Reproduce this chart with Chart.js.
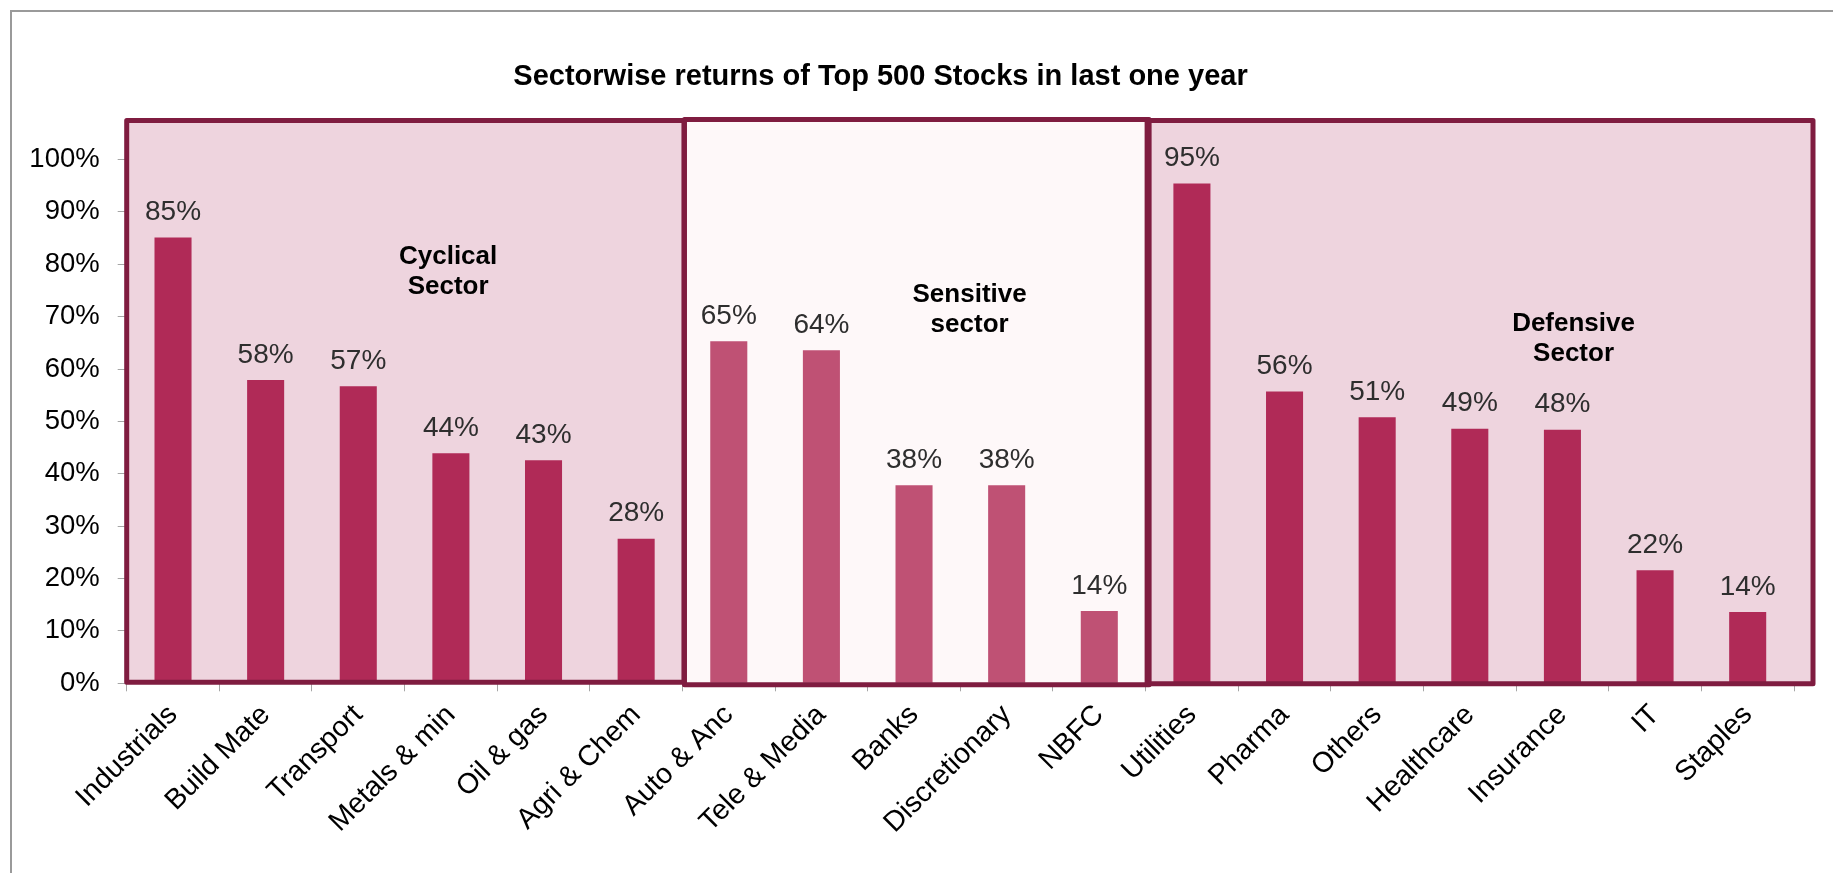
<!DOCTYPE html>
<html>
<head>
<meta charset="utf-8">
<title>Sectorwise returns of Top 500 Stocks in last one year</title>
<script src="https://cdn.jsdelivr.net/npm/chart.js@4/dist/chart.umd.min.js"></script>
<style>
  html, body { margin: 0; padding: 0; background: #ffffff; }
  canvas { display: block; }
</style>
</head>
<body>
<canvas id="c" width="1833" height="873"></canvas>
<script>
// Sector returns over the last year, one bar per sector
const categories = ['Industrials', 'Build Mate', 'Transport', 'Metals & min', 'Oil & gas', 'Agri & Chem',
  'Auto & Anc', 'Tele & Media', 'Banks', 'Discretionary', 'NBFC',
  'Utilities', 'Pharma', 'Others', 'Healthcare', 'Insurance', 'IT', 'Staples'];
const returns = [0.851, 0.579, 0.567, 0.439, 0.426, 0.276,
  0.653, 0.636, 0.378, 0.378, 0.138,
  0.954, 0.557, 0.508, 0.486, 0.484, 0.216, 0.136];
// Which group each sector belongs to (index into the group arrays below)
const sectorGroup = [0, 0, 0, 0, 0, 0, 1, 1, 1, 1, 1, 2, 2, 2, 2, 2, 2, 2];

// Groups: name lines, first/last category, where the group name sits (category units / value units)
const groupNames = [['Cyclical', 'Sector'], ['Sensitive', 'sector'], ['Defensive', 'Sector']];
const groupStart = [0, 6, 11];
const groupEnd = [5, 10, 17];
const groupLabelX = [2.97, 8.6, 15.12];
const groupLabelY = [0.80, 0.728, 0.673];

const yTicks = [0, 0.1, 0.2, 0.3, 0.4, 0.5, 0.6, 0.7, 0.8, 0.9, 1.0];

// Styling
const FONT = '"Liberation Sans", Arial, sans-serif';
const barColors = ['#B02A57', '#BF5174', '#B02A57'];
const boxFills = ['#EED4DE', '#FEF8F9', '#EED4DE'];
const boxBorder = '#7F1C40';
const boxEdgePad = [[0, 1.5], [2, 3.5], [1.5, 19]];
const boxBottomPad = [0, 2.5, 1.5];

const pct = v => Math.round(v * 100) + '%';

function boundary(chart, i) {
  const x = chart.scales.x;
  const half = (x.getPixelForValue(1) - x.getPixelForValue(0)) / 2;
  return x.getPixelForValue(i) - half;
}

function boxRect(chart, g) {
  const a = chart.chartArea;
  const x0 = boundary(chart, groupStart[g]) + boxEdgePad[g][0];
  const x1 = boundary(chart, groupEnd[g] + 1) + boxEdgePad[g][1];
  const top = a.top - 39 - (g === 1 ? 1 : 0);
  const bottom = a.bottom + boxBottomPad[g] - 1;
  return { x0, x1, top, bottom };
}

const decorations = {
  id: 'decorations',
  beforeDraw(chart) {
    const ctx = chart.ctx;
    ctx.save();
    ctx.fillStyle = '#ffffff';
    ctx.fillRect(0, 0, chart.width, chart.height);
    ctx.strokeStyle = '#9a9a9a';
    ctx.lineWidth = 2;
    ctx.strokeRect(11, 11, chart.width + 20, chart.height + 20);
    // group panels behind the bars
    for (let g = 0; g < groupNames.length; g++) {
      const r = boxRect(chart, g);
      ctx.fillStyle = boxFills[g];
      ctx.fillRect(r.x0, r.top, r.x1 - r.x0, r.bottom - r.top);
    }
    ctx.restore();
  },
  afterDatasetsDraw(chart) {
    const ctx = chart.ctx;
    ctx.save();
    // panel outlines
    ctx.strokeStyle = boxBorder;
    ctx.lineWidth = 5;
    ctx.lineJoin = 'round';
    for (let g = 0; g < groupNames.length; g++) {
      const r = boxRect(chart, g);
      ctx.strokeRect(r.x0, r.top, r.x1 - r.x0, r.bottom - r.top);
    }
    // value labels above the bars
    const meta = chart.getDatasetMeta(0);
    ctx.fillStyle = '#2e2e2e';
    ctx.font = '28px ' + FONT;
    ctx.textAlign = 'center';
    ctx.textBaseline = 'alphabetic';
    meta.data.forEach((bar, i) => {
      ctx.fillText(pct(returns[i]), bar.x, bar.y - 17.5);
    });
    // group names
    const xs = chart.scales.x, ys = chart.scales.y;
    ctx.fillStyle = '#000000';
    ctx.font = 'bold 26px ' + FONT;
    for (let g = 0; g < groupNames.length; g++) {
      const cx = xs.getPixelForValue(groupLabelX[g]);
      const by = ys.getPixelForValue(groupLabelY[g]);
      groupNames[g].forEach((line, k) => ctx.fillText(line, cx, by + k * 30));
    }
    // chart title
    ctx.font = 'bold 29px ' + FONT;
    ctx.fillText('Sectorwise returns of Top 500 Stocks in last one year', 880.5, 85);
    ctx.restore();
  }
};

new Chart(document.getElementById('c'), {
  type: 'bar',
  data: {
    labels: categories,
    datasets: [{
      data: returns,
      backgroundColor: sectorGroup.map(g => barColors[g]),
      borderWidth: 0,
      barPercentage: 0.4,
      categoryPercentage: 1.0
    }]
  },
  options: {
    responsive: false,
    devicePixelRatio: 1,
    animation: false,
    layout: { padding: { top: 159.5, right: 39, left: 0, bottom: 0 } },
    plugins: {
      legend: { display: false },
      title: { display: false },
      tooltip: { enabled: false }
    },
    scales: {
      x: {
        grid: { drawOnChartArea: false, tickLength: 8, color: '#a6a6a6' },
        border: { display: true, color: '#a6a6a6' },
        ticks: {
          autoSkip: false,
          maxRotation: 45,
          minRotation: 45,
          padding: 7,
          color: '#000000',
          font: { family: FONT, size: 28.5 }
        },
        afterFit(s) { s.height = 873 - 683.3; }
      },
      y: {
        min: 0,
        max: 1,
        afterBuildTicks(s) { s.ticks = yTicks.map(v => ({ value: v })); },
        grid: { drawOnChartArea: false, tickLength: 9, color: '#a6a6a6' },
        border: { display: true, color: '#a6a6a6' },
        ticks: {
          padding: 18,
          color: '#000000',
          font: { family: FONT, size: 27.5 },
          callback: v => pct(v)
        },
        afterFit(s) { s.width = 126.7; }
      }
    }
  },
  plugins: [decorations]
});
</script>
</body>
</html>
